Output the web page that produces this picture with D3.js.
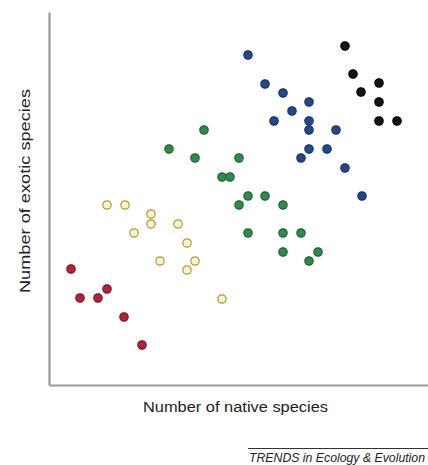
<!DOCTYPE html>
<html>
<head>
<meta charset="utf-8">
<script src="https://cdn.jsdelivr.net/npm/d3@7"></script>
<style>
  html, body { margin: 0; padding: 0; background: #fff; overflow: hidden; }
  svg { display: block; }
</style>
</head>
<body>
<svg id="chart" width="428" height="465"></svg>
<script>
// Native vs exotic species richness, five groups of sites
const redX    = [4.4, 6.2, 9.8, 11.6, 15.0, 18.6];
const redY    = [23.2, 17.4, 17.4, 19.2, 13.6, 8.0];
const yellowX = [11.6, 15.2, 20.4, 20.4, 25.8, 17.0, 27.6, 22.2, 29.2, 27.6, 34.6];
const yellowY = [36.0, 36.0, 34.2, 32.2, 32.2, 30.4, 28.4, 24.8, 24.8, 23.0, 17.2];
const greenX  = [31.0, 24.0, 29.2, 38.0, 34.6, 36.2, 39.8, 43.2, 38.0, 46.8, 39.8, 46.8, 50.4, 46.8, 53.8, 52.0];
const greenY  = [51.0, 47.2, 45.4, 45.4, 41.6, 41.6, 37.8, 37.8, 36.0, 36.0, 30.4, 30.4, 30.4, 26.6, 26.6, 24.8];
const blueX   = [39.8, 43.2, 46.8, 52.0, 48.6, 45.0, 52.0, 52.0, 57.4, 52.0, 55.6, 50.4, 59.2, 62.6];
const blueY   = [66.0, 60.2, 58.4, 56.6, 54.8, 52.8, 52.8, 51.0, 51.0, 47.2, 47.2, 45.4, 43.4, 37.8];
const blackX  = [59.2, 60.8, 66.0, 62.4, 66.0, 66.0, 69.6];
const blackY  = [67.8, 62.2, 60.4, 58.6, 56.6, 52.8, 52.8];

const groups = [
  { xs: redX,    ys: redY,    fill: "#b3223a", stroke: "#7d1626" },
  { xs: yellowX, ys: yellowY, fill: "#f8f3c8", stroke: "#a89a3c" },
  { xs: greenX,  ys: greenY,  fill: "#2f8a4c", stroke: "#1f6135" },
  { xs: blueX,   ys: blueY,   fill: "#22498c", stroke: "#163263" },
  { xs: blackX,  ys: blackY,  fill: "#141414", stroke: "#000000" }
];

const svg = d3.select("#chart");
const plotLeft = 49, plotRight = 428, plotTop = 12, plotBottom = 385;

const x = d3.scaleLinear().domain([0, 75.8]).range([plotLeft, plotRight]);
const y = d3.scaleLinear().domain([0, 74.6]).range([plotBottom, plotTop]);

// Axes: plain lines, no ticks
const axisColor = "#9a9a9a";
svg.append("g")
  .attr("transform", `translate(0,${plotBottom})`)
  .call(d3.axisBottom(x).tickValues([]).tickSizeOuter(0))
  .call(g => g.select(".domain").attr("stroke", axisColor).attr("stroke-width", 2.2));
svg.append("g")
  .attr("transform", `translate(${plotLeft},0)`)
  .call(d3.axisLeft(y).tickValues([]).tickSizeOuter(0))
  .call(g => g.select(".domain").attr("stroke", axisColor).attr("stroke-width", 2.2));

// Points
groups.forEach(gr => {
  const pts = gr.xs.map((v, i) => [v, gr.ys[i]]);
  svg.append("g").selectAll("circle")
    .data(pts)
    .join("circle")
    .attr("cx", d => x(d[0]))
    .attr("cy", d => y(d[1]))
    .attr("r", 4.2)
    .attr("fill", gr.fill)
    .attr("stroke", gr.stroke)
    .attr("stroke-width", 1.2);
});

// Axis titles (slightly wide-set lettering)
const font = "'Liberation Sans', Arial, sans-serif";
svg.append("text")
  .attr("x", 235.5).attr("y", 412)
  .attr("text-anchor", "middle")
  .attr("font-family", font).attr("font-size", 14)
  .attr("textLength", 185).attr("lengthAdjust", "spacingAndGlyphs")
  .attr("fill", "#222")
  .text("Number of native species");
svg.append("text")
  .attr("transform", "translate(30,191) rotate(-90)")
  .attr("text-anchor", "middle")
  .attr("font-family", font).attr("font-size", 14)
  .attr("textLength", 204).attr("lengthAdjust", "spacingAndGlyphs")
  .attr("fill", "#222")
  .text("Number of exotic species");

// Journal credit line
svg.append("line")
  .attr("x1", 248).attr("x2", 428)
  .attr("y1", 448.5).attr("y2", 448.5)
  .attr("stroke", "#333").attr("stroke-width", 1);
svg.append("text")
  .attr("x", 249).attr("y", 462)
  .attr("font-family", font).attr("font-size", 12)
  .attr("font-style", "italic")
  .attr("textLength", 176).attr("lengthAdjust", "spacingAndGlyphs")
  .attr("fill", "#222")
  .text("TRENDS in Ecology & Evolution");
</script>
</body>
</html>
